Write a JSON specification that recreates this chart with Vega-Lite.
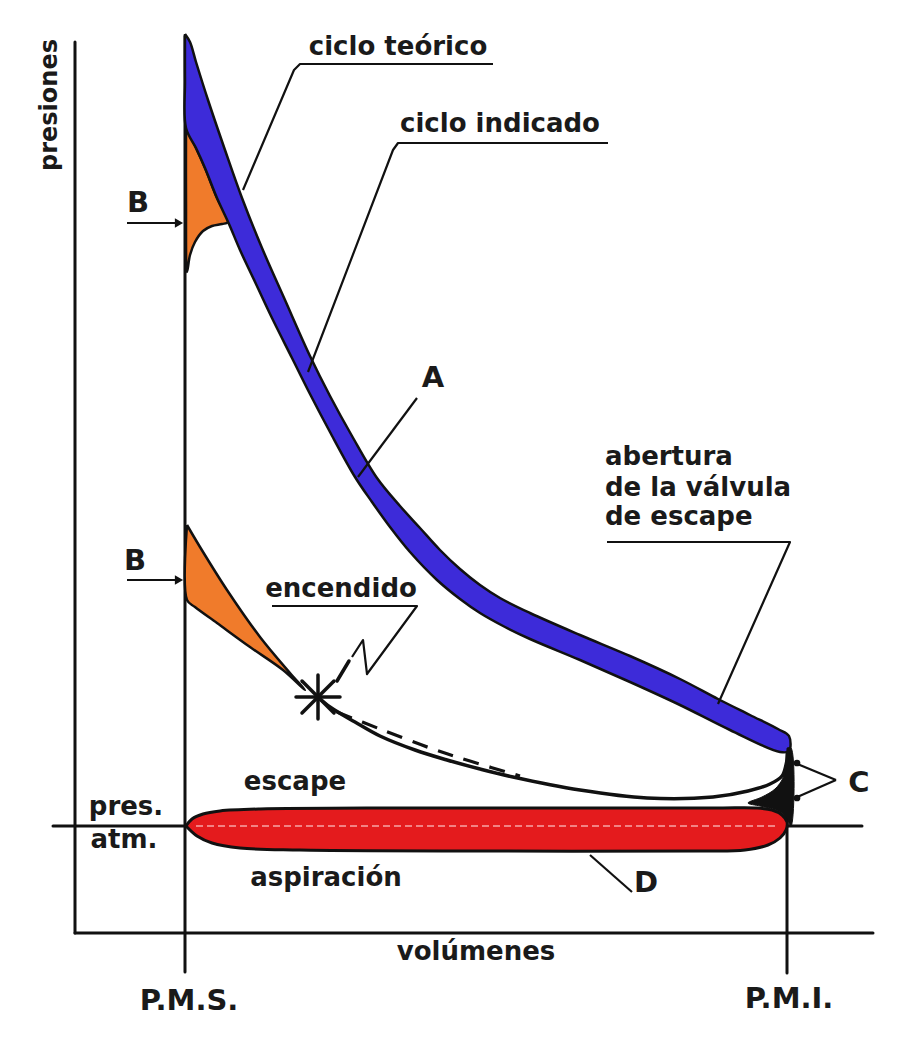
{
  "$schema": "https://vega.github.io/schema/vega-lite/v6.json",
  "width": 906,
  "height": 1046,
  "autosize": {"type": "none"},
  "padding": 0,
  "background": "white",
  "config": {"view": {"stroke": null}},
  "datasets": {
    "polys": [
      {"g": "red", "o": 1, "x": 186, "y": 826}, {"g": "red", "o": 2, "x": 192, "y": 819}, {"g": "red", "o": 3, "x": 203, "y": 814}, {"g": "red", "o": 4, "x": 220, "y": 811}, {"g": "red", "o": 5, "x": 260, "y": 809}, {"g": "red", "o": 6, "x": 400, "y": 808}, {"g": "red", "o": 7, "x": 600, "y": 808}, {"g": "red", "o": 8, "x": 720, "y": 808}, {"g": "red", "o": 9, "x": 755, "y": 808}, {"g": "red", "o": 10, "x": 772, "y": 810}, {"g": "red", "o": 11, "x": 782, "y": 815}, {"g": "red", "o": 12, "x": 787, "y": 822}, {"g": "red", "o": 13, "x": 786, "y": 830}, {"g": "red", "o": 14, "x": 780, "y": 838}, {"g": "red", "o": 15, "x": 768, "y": 845}, {"g": "red", "o": 16, "x": 745, "y": 850}, {"g": "red", "o": 17, "x": 700, "y": 851}, {"g": "red", "o": 18, "x": 500, "y": 851}, {"g": "red", "o": 19, "x": 300, "y": 850}, {"g": "red", "o": 20, "x": 240, "y": 848}, {"g": "red", "o": 21, "x": 212, "y": 843}, {"g": "red", "o": 22, "x": 197, "y": 836}, {"g": "red", "o": 23, "x": 186, "y": 826},

      {"g": "blue", "o": 1, "x": 185, "y": 34}, {"g": "blue", "o": 2, "x": 190, "y": 42}, {"g": "blue", "o": 3, "x": 196, "y": 62}, {"g": "blue", "o": 4, "x": 208, "y": 100}, {"g": "blue", "o": 5, "x": 225, "y": 150}, {"g": "blue", "o": 6, "x": 242, "y": 198}, {"g": "blue", "o": 7, "x": 262, "y": 248}, {"g": "blue", "o": 8, "x": 285, "y": 300}, {"g": "blue", "o": 9, "x": 310, "y": 356}, {"g": "blue", "o": 10, "x": 330, "y": 396}, {"g": "blue", "o": 11, "x": 352, "y": 436}, {"g": "blue", "o": 12, "x": 377, "y": 478}, {"g": "blue", "o": 13, "x": 400, "y": 506}, {"g": "blue", "o": 14, "x": 420, "y": 528}, {"g": "blue", "o": 15, "x": 440, "y": 550}, {"g": "blue", "o": 16, "x": 460, "y": 569}, {"g": "blue", "o": 17, "x": 480, "y": 585}, {"g": "blue", "o": 18, "x": 500, "y": 598}, {"g": "blue", "o": 19, "x": 530, "y": 613}, {"g": "blue", "o": 20, "x": 580, "y": 635}, {"g": "blue", "o": 21, "x": 630, "y": 656}, {"g": "blue", "o": 22, "x": 680, "y": 679}, {"g": "blue", "o": 23, "x": 718, "y": 699}, {"g": "blue", "o": 24, "x": 750, "y": 715}, {"g": "blue", "o": 25, "x": 778, "y": 729}, {"g": "blue", "o": 26, "x": 789, "y": 736}, {"g": "blue", "o": 27, "x": 789, "y": 751}, {"g": "blue", "o": 28, "x": 780, "y": 752}, {"g": "blue", "o": 29, "x": 730, "y": 730}, {"g": "blue", "o": 30, "x": 680, "y": 705}, {"g": "blue", "o": 31, "x": 630, "y": 682}, {"g": "blue", "o": 32, "x": 580, "y": 660}, {"g": "blue", "o": 33, "x": 530, "y": 639}, {"g": "blue", "o": 34, "x": 505, "y": 627}, {"g": "blue", "o": 35, "x": 480, "y": 613}, {"g": "blue", "o": 36, "x": 460, "y": 599}, {"g": "blue", "o": 37, "x": 437, "y": 580}, {"g": "blue", "o": 38, "x": 410, "y": 552}, {"g": "blue", "o": 39, "x": 390, "y": 527}, {"g": "blue", "o": 40, "x": 372, "y": 502}, {"g": "blue", "o": 41, "x": 355, "y": 477}, {"g": "blue", "o": 42, "x": 330, "y": 432}, {"g": "blue", "o": 43, "x": 310, "y": 394}, {"g": "blue", "o": 44, "x": 292, "y": 358}, {"g": "blue", "o": 45, "x": 272, "y": 318}, {"g": "blue", "o": 46, "x": 256, "y": 284}, {"g": "blue", "o": 47, "x": 240, "y": 250}, {"g": "blue", "o": 48, "x": 229, "y": 224}, {"g": "blue", "o": 49, "x": 217, "y": 198}, {"g": "blue", "o": 50, "x": 205, "y": 168}, {"g": "blue", "o": 51, "x": 196, "y": 148}, {"g": "blue", "o": 52, "x": 186, "y": 128}, {"g": "blue", "o": 53, "x": 185, "y": 80}, {"g": "blue", "o": 54, "x": 185, "y": 34},

      {"g": "orange1", "o": 1, "x": 186, "y": 128}, {"g": "orange1", "o": 2, "x": 196, "y": 148}, {"g": "orange1", "o": 3, "x": 205, "y": 168}, {"g": "orange1", "o": 4, "x": 217, "y": 198}, {"g": "orange1", "o": 5, "x": 228, "y": 222}, {"g": "orange1", "o": 6, "x": 222, "y": 224}, {"g": "orange1", "o": 7, "x": 212, "y": 226}, {"g": "orange1", "o": 8, "x": 203, "y": 231}, {"g": "orange1", "o": 9, "x": 195, "y": 242}, {"g": "orange1", "o": 10, "x": 190, "y": 255}, {"g": "orange1", "o": 11, "x": 187, "y": 272}, {"g": "orange1", "o": 12, "x": 186, "y": 200}, {"g": "orange1", "o": 13, "x": 186, "y": 128},

      {"g": "orange2", "o": 1, "x": 187, "y": 525}, {"g": "orange2", "o": 2, "x": 200, "y": 547}, {"g": "orange2", "o": 3, "x": 227, "y": 590}, {"g": "orange2", "o": 4, "x": 260, "y": 637}, {"g": "orange2", "o": 5, "x": 290, "y": 673}, {"g": "orange2", "o": 6, "x": 305, "y": 690}, {"g": "orange2", "o": 7, "x": 283, "y": 670}, {"g": "orange2", "o": 8, "x": 250, "y": 647}, {"g": "orange2", "o": 9, "x": 217, "y": 623}, {"g": "orange2", "o": 10, "x": 195, "y": 607}, {"g": "orange2", "o": 11, "x": 187, "y": 600}, {"g": "orange2", "o": 12, "x": 187, "y": 525},

      {"g": "cap", "o": 1, "x": 787, "y": 748}, {"g": "cap", "o": 2, "x": 791, "y": 748}, {"g": "cap", "o": 3, "x": 791, "y": 826}, {"g": "cap", "o": 4, "x": 786, "y": 817}, {"g": "cap", "o": 5, "x": 776, "y": 810}, {"g": "cap", "o": 6, "x": 760, "y": 806}, {"g": "cap", "o": 7, "x": 748, "y": 803}, {"g": "cap", "o": 8, "x": 762, "y": 797}, {"g": "cap", "o": 9, "x": 775, "y": 789}, {"g": "cap", "o": 10, "x": 783, "y": 778}, {"g": "cap", "o": 11, "x": 786, "y": 765}, {"g": "cap", "o": 12, "x": 787, "y": 748}
    ],
    "axes": [
      {"g": "yaxis", "o": 1, "x": 75, "y": 42}, {"g": "yaxis", "o": 2, "x": 75, "y": 933},
      {"g": "xaxis", "o": 1, "x": 75, "y": 933}, {"g": "xaxis", "o": 2, "x": 873, "y": 933},
      {"g": "pms", "o": 1, "x": 185, "y": 36}, {"g": "pms", "o": 2, "x": 185, "y": 972},
      {"g": "pmi", "o": 1, "x": 787, "y": 745}, {"g": "pmi", "o": 2, "x": 787, "y": 973},
      {"g": "atm", "o": 1, "x": 53, "y": 826}, {"g": "atm", "o": 2, "x": 862, "y": 826}
    ],
    "leaders": [
      {"g": "t", "o": 1, "x": 493, "y": 64}, {"g": "t", "o": 2, "x": 300, "y": 64}, {"g": "t", "o": 3, "x": 294, "y": 70}, {"g": "t", "o": 4, "x": 243, "y": 190},
      {"g": "i", "o": 1, "x": 608, "y": 143}, {"g": "i", "o": 2, "x": 398, "y": 143}, {"g": "i", "o": 3, "x": 393, "y": 150}, {"g": "i", "o": 4, "x": 308, "y": 372},
      {"g": "a", "o": 1, "x": 417, "y": 398}, {"g": "a", "o": 2, "x": 358, "y": 477},
      {"g": "ab", "o": 1, "x": 607, "y": 542}, {"g": "ab", "o": 2, "x": 790, "y": 542}, {"g": "ab", "o": 3, "x": 718, "y": 704},
      {"g": "d", "o": 1, "x": 590, "y": 855}, {"g": "d", "o": 2, "x": 632, "y": 892},
      {"g": "c1", "o": 1, "x": 836, "y": 780}, {"g": "c1", "o": 2, "x": 795, "y": 763},
      {"g": "c2", "o": 1, "x": 836, "y": 780}, {"g": "c2", "o": 2, "x": 795, "y": 798},
      {"g": "b1", "o": 1, "x": 127, "y": 223}, {"g": "b1", "o": 2, "x": 178, "y": 223},
      {"g": "b2", "o": 1, "x": 127, "y": 580}, {"g": "b2", "o": 2, "x": 178, "y": 580},
      {"g": "bolt", "o": 1, "x": 272, "y": 606}, {"g": "bolt", "o": 2, "x": 417, "y": 606}, {"g": "bolt", "o": 3, "x": 367, "y": 674}, {"g": "bolt", "o": 4, "x": 363, "y": 640}, {"g": "bolt", "o": 5, "x": 352, "y": 657}
    ],
    "thick": [
      {"g": "s1", "o": 1, "x": 318, "y": 675}, {"g": "s1", "o": 2, "x": 318, "y": 719},
      {"g": "s2", "o": 1, "x": 296, "y": 697}, {"g": "s2", "o": 2, "x": 340, "y": 697},
      {"g": "s3", "o": 1, "x": 302, "y": 681}, {"g": "s3", "o": 2, "x": 334, "y": 713},
      {"g": "s4", "o": 1, "x": 334, "y": 681}, {"g": "s4", "o": 2, "x": 302, "y": 713},
      {"g": "bd", "o": 1, "x": 349, "y": 661}, {"g": "bd", "o": 2, "x": 337, "y": 681}
    ],
    "curve": [
      {"g": "comp", "o": 1, "x": 318, "y": 697}, {"g": "comp", "o": 2, "x": 330, "y": 707}, {"g": "comp", "o": 3, "x": 355, "y": 722}, {"g": "comp", "o": 4, "x": 380, "y": 736}, {"g": "comp", "o": 5, "x": 415, "y": 750}, {"g": "comp", "o": 6, "x": 447, "y": 760}, {"g": "comp", "o": 7, "x": 480, "y": 769}, {"g": "comp", "o": 8, "x": 513, "y": 777}, {"g": "comp", "o": 9, "x": 580, "y": 790}, {"g": "comp", "o": 10, "x": 647, "y": 798}, {"g": "comp", "o": 11, "x": 713, "y": 797}, {"g": "comp", "o": 12, "x": 748, "y": 791}, {"g": "comp", "o": 13, "x": 770, "y": 784}, {"g": "comp", "o": 14, "x": 782, "y": 776}, {"g": "comp", "o": 15, "x": 786, "y": 765}, {"g": "comp", "o": 16, "x": 788, "y": 752}
    ],
    "dashed": [
      {"g": "theo", "o": 1, "x": 337, "y": 712}, {"g": "theo", "o": 2, "x": 380, "y": 729}, {"g": "theo", "o": 3, "x": 430, "y": 748}, {"g": "theo", "o": 4, "x": 470, "y": 761}, {"g": "theo", "o": 5, "x": 520, "y": 776}
    ],
    "pinkdash": [
      {"g": "atmin", "o": 1, "x": 196, "y": 826}, {"g": "atmin", "o": 2, "x": 778, "y": 826}
    ],
    "heads": [
      {"g": "b", "x": 179, "y": 223}, {"g": "b", "x": 179, "y": 580}
    ],
    "dots": [
      {"g": "c", "x": 797, "y": 763}, {"g": "c", "x": 797, "y": 798}
    ],
    "labels": [
      {"g": "mid", "t": "ciclo teórico", "x": 398, "y": 55},
      {"g": "mid", "t": "ciclo indicado", "x": 500, "y": 132},
      {"g": "mid", "t": "encendido", "x": 341, "y": 597},
      {"g": "mid", "t": "escape", "x": 295, "y": 790},
      {"g": "mid", "t": "pres.", "x": 126, "y": 815},
      {"g": "mid", "t": "atm.", "x": 124, "y": 848},
      {"g": "mid", "t": "aspiración", "x": 326, "y": 886},
      {"g": "mid", "t": "volúmenes", "x": 476, "y": 960},
      {"g": "left", "t": "abertura", "x": 605, "y": 465},
      {"g": "left", "t": "de la válvula", "x": 605, "y": 496},
      {"g": "left", "t": "de escape", "x": 605, "y": 525},
      {"g": "cap", "t": "A", "x": 433, "y": 387},
      {"g": "cap", "t": "B", "x": 138, "y": 212},
      {"g": "cap", "t": "B", "x": 135, "y": 570},
      {"g": "cap", "t": "C", "x": 859, "y": 792},
      {"g": "cap", "t": "D", "x": 646, "y": 892},
      {"g": "cap", "t": "P.M.S.", "x": 189, "y": 1010},
      {"g": "cap", "t": "P.M.I.", "x": 789, "y": 1008},
      {"g": "rot", "t": "presiones", "x": 57, "y": 105}
    ]
  },
  "encoding": {
    "x": {"field": "x", "type": "quantitative", "scale": {"domain": [0, 906], "nice": false, "zero": false}, "axis": null},
    "y": {"field": "y", "type": "quantitative", "scale": {"domain": [0, 1046], "nice": false, "zero": false, "reverse": true}, "axis": null}
  },
  "layer": [
    {
      "data": {"name": "axes"},
      "mark": {"type": "line", "stroke": "#111111", "strokeWidth": 3, "strokeCap": "round"},
      "encoding": {"order": {"field": "o"}, "detail": {"field": "g"}}
    },
    {
      "data": {"name": "polys"},
      "transform": [{"filter": "datum.g === 'red'"}],
      "mark": {"type": "line", "interpolate": "catmull-rom", "fill": "#e41b1d", "stroke": "#111111", "strokeWidth": 3, "strokeJoin": "round"},
      "encoding": {"order": {"field": "o"}, "detail": {"field": "g"}}
    },
    {
      "data": {"name": "pinkdash"},
      "mark": {"type": "line", "stroke": "#f6a6a6", "strokeWidth": 1.5, "strokeDash": [7, 4]},
      "encoding": {"order": {"field": "o"}, "detail": {"field": "g"}}
    },
    {
      "data": {"name": "polys"},
      "transform": [{"filter": "datum.g === 'orange1' || datum.g === 'orange2'"}],
      "mark": {"type": "line", "interpolate": "catmull-rom", "fill": "#f07b2b", "stroke": "#111111", "strokeWidth": 2.5, "strokeJoin": "round"},
      "encoding": {"order": {"field": "o"}, "detail": {"field": "g"}}
    },
    {
      "data": {"name": "polys"},
      "transform": [{"filter": "datum.g === 'blue'"}],
      "mark": {"type": "line", "interpolate": "catmull-rom", "fill": "#3d2bd9", "stroke": "#111111", "strokeWidth": 2.5, "strokeJoin": "round"},
      "encoding": {"order": {"field": "o"}, "detail": {"field": "g"}}
    },
    {
      "data": {"name": "polys"},
      "transform": [{"filter": "datum.g === 'cap'"}],
      "mark": {"type": "line", "interpolate": "catmull-rom", "fill": "#111111", "stroke": "#111111", "strokeWidth": 1},
      "encoding": {"order": {"field": "o"}, "detail": {"field": "g"}}
    },
    {
      "data": {"name": "curve"},
      "mark": {"type": "line", "interpolate": "catmull-rom", "stroke": "#111111", "strokeWidth": 3.5, "strokeCap": "round", "strokeJoin": "round"},
      "encoding": {"order": {"field": "o"}, "detail": {"field": "g"}}
    },
    {
      "data": {"name": "thick"},
      "mark": {"type": "line", "stroke": "#111111", "strokeWidth": 3.5, "strokeCap": "round", "strokeJoin": "round"},
      "encoding": {"order": {"field": "o"}, "detail": {"field": "g"}}
    },
    {
      "data": {"name": "dashed"},
      "mark": {"type": "line", "interpolate": "catmull-rom", "stroke": "#111111", "strokeWidth": 3.2, "strokeDash": [16, 11]},
      "encoding": {"order": {"field": "o"}, "detail": {"field": "g"}}
    },
    {
      "data": {"name": "leaders"},
      "mark": {"type": "line", "stroke": "#111111", "strokeWidth": 2.2, "strokeJoin": "round"},
      "encoding": {"order": {"field": "o"}, "detail": {"field": "g"}}
    },
    {
      "data": {"name": "heads"},
      "mark": {"type": "point", "shape": "triangle-right", "filled": true, "color": "#111111", "size": 90, "opacity": 1},
      "encoding": {}
    },
    {
      "data": {"name": "dots"},
      "mark": {"type": "point", "shape": "circle", "filled": true, "color": "#111111", "size": 45, "opacity": 1},
      "encoding": {}
    },
    {
      "data": {"name": "labels"},
      "transform": [{"filter": "datum.g === 'mid'"}],
      "mark": {"type": "text", "font": "DejaVu Sans", "fontWeight": "bold", "fontSize": 26, "align": "center", "baseline": "alphabetic", "color": "#1a1a1a"},
      "encoding": {"text": {"field": "t"}}
    },
    {
      "data": {"name": "labels"},
      "transform": [{"filter": "datum.g === 'left'"}],
      "mark": {"type": "text", "font": "DejaVu Sans", "fontWeight": "bold", "fontSize": 26, "align": "left", "baseline": "alphabetic", "color": "#1a1a1a"},
      "encoding": {"text": {"field": "t"}}
    },
    {
      "data": {"name": "labels"},
      "transform": [{"filter": "datum.g === 'cap'"}],
      "mark": {"type": "text", "font": "DejaVu Sans", "fontWeight": "bold", "fontSize": 29, "align": "center", "baseline": "alphabetic", "color": "#1a1a1a"},
      "encoding": {"text": {"field": "t"}}
    },
    {
      "data": {"name": "labels"},
      "transform": [{"filter": "datum.g === 'rot'"}],
      "mark": {"type": "text", "font": "DejaVu Sans", "fontWeight": "bold", "fontSize": 24, "align": "center", "baseline": "alphabetic", "angle": 270, "color": "#1a1a1a"},
      "encoding": {"text": {"field": "t"}}
    }
  ]
}
